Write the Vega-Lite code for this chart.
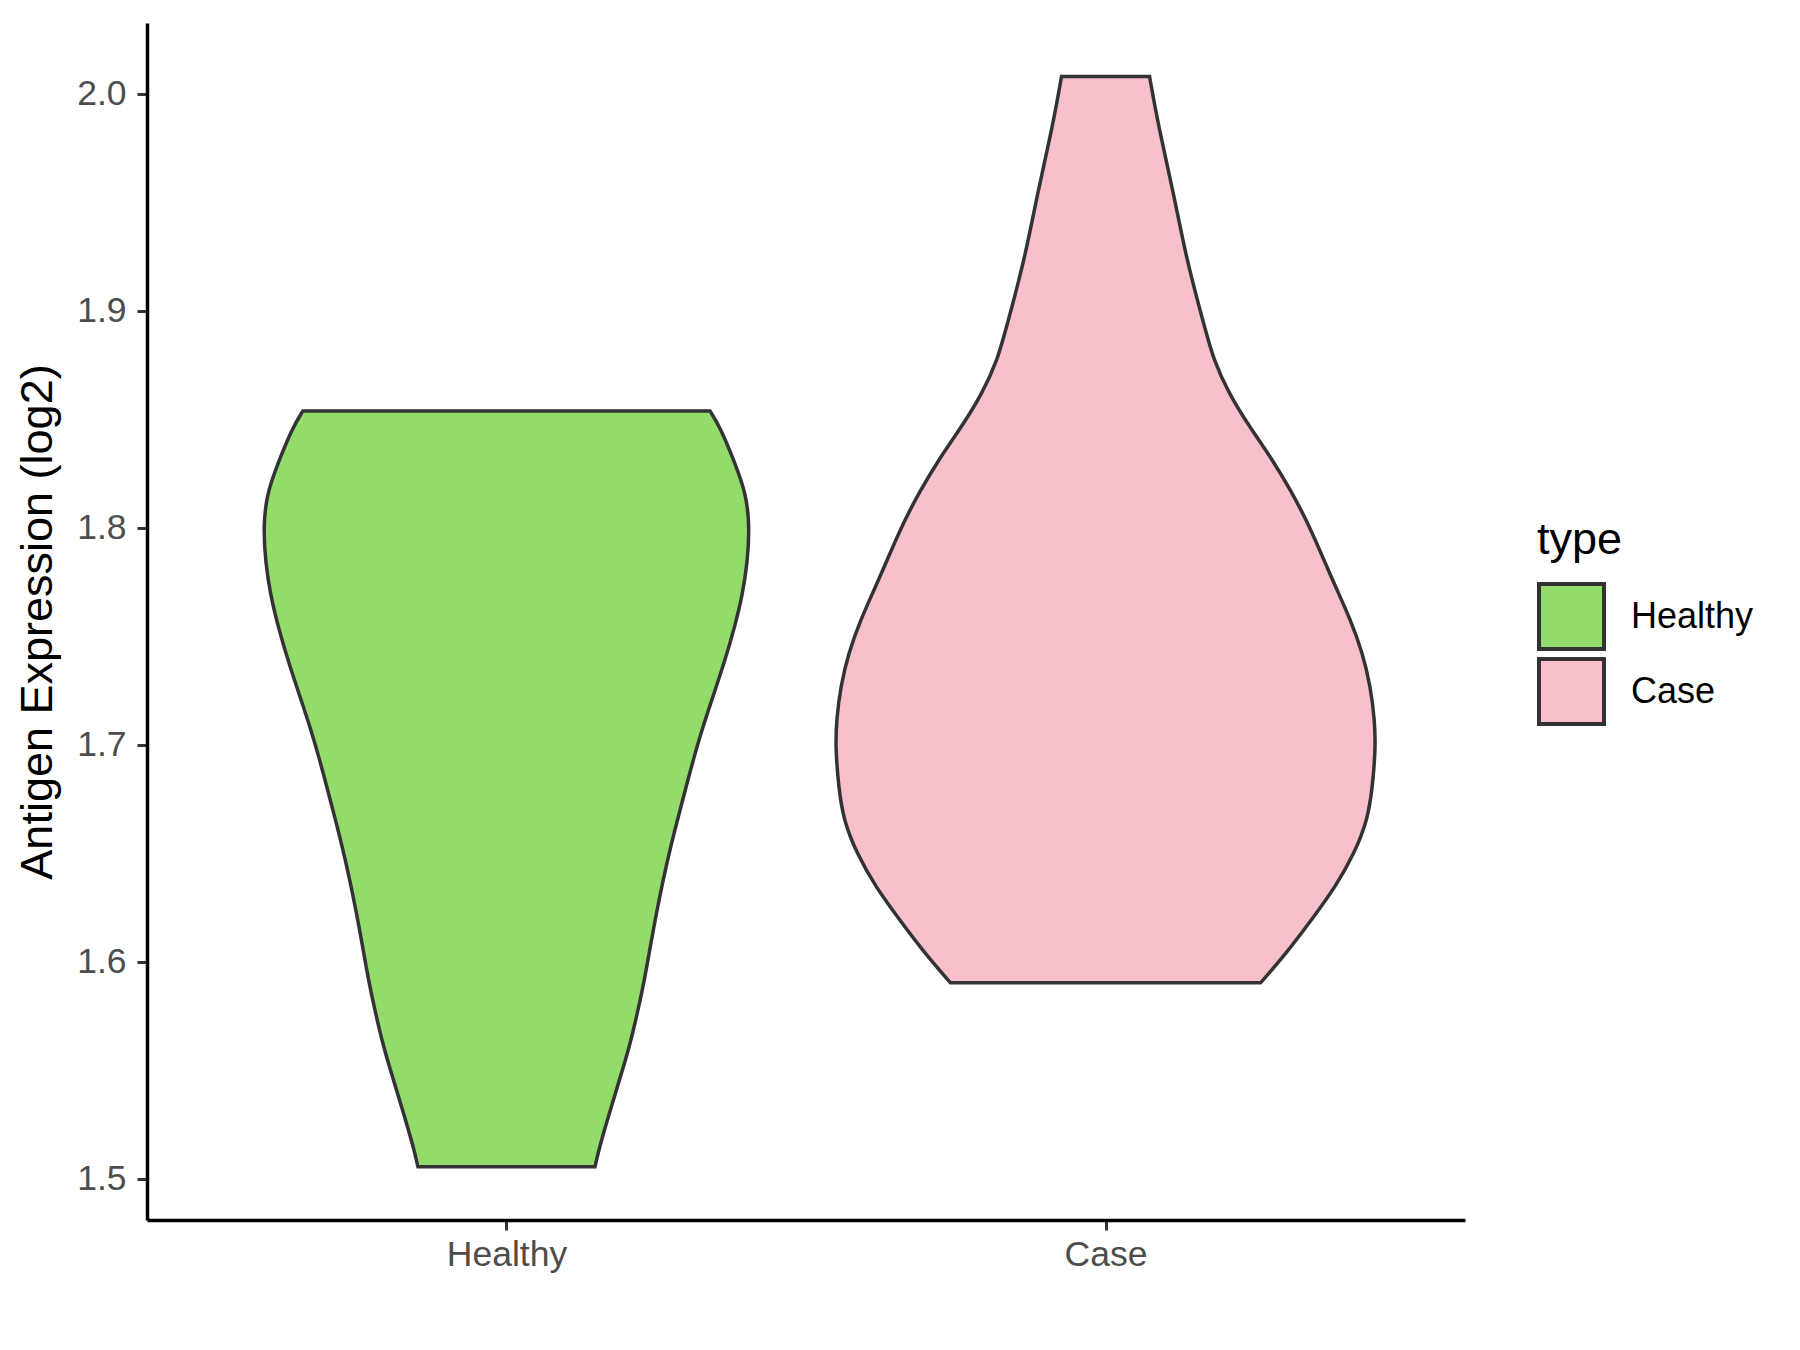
{
  "$schema": "https://vega.github.io/schema/vega-lite/v6.json",
  "width": 1318,
  "height": 1197,
  "autosize": {"type": "none"},
  "padding": {"left": 147, "top": 23, "right": 335, "bottom": 130},
  "background": "white",
  "config": {"view": {"stroke": null}, "font": "Liberation Sans"},
  "datasets": {
    "violins": [
      {"type": "Healthy", "expr": 1.5055, "width": 0.2954},
      {"type": "Healthy", "expr": 1.5147, "width": 0.3106},
      {"type": "Healthy", "expr": 1.5304, "width": 0.3440},
      {"type": "Healthy", "expr": 1.5456, "width": 0.3772},
      {"type": "Healthy", "expr": 1.5608, "width": 0.4106},
      {"type": "Healthy", "expr": 1.5765, "width": 0.4374},
      {"type": "Healthy", "expr": 1.5917, "width": 0.4608},
      {"type": "Healthy", "expr": 1.6069, "width": 0.4800},
      {"type": "Healthy", "expr": 1.6226, "width": 0.5008},
      {"type": "Healthy", "expr": 1.6378, "width": 0.5230},
      {"type": "Healthy", "expr": 1.6530, "width": 0.5480},
      {"type": "Healthy", "expr": 1.6687, "width": 0.5770},
      {"type": "Healthy", "expr": 1.6839, "width": 0.6060},
      {"type": "Healthy", "expr": 1.6922, "width": 0.6220},
      {"type": "Healthy", "expr": 1.7078, "width": 0.6544},
      {"type": "Healthy", "expr": 1.7230, "width": 0.6912},
      {"type": "Healthy", "expr": 1.7382, "width": 0.7278},
      {"type": "Healthy", "expr": 1.7539, "width": 0.7612},
      {"type": "Healthy", "expr": 1.7691, "width": 0.7880},
      {"type": "Healthy", "expr": 1.7843, "width": 0.8046},
      {"type": "Healthy", "expr": 1.8000, "width": 0.8114},
      {"type": "Healthy", "expr": 1.8152, "width": 0.8014},
      {"type": "Healthy", "expr": 1.8304, "width": 0.7612},
      {"type": "Healthy", "expr": 1.8461, "width": 0.7146},
      {"type": "Healthy", "expr": 1.8539, "width": 0.6794},
      {"type": "Case", "expr": 1.5903, "width": 0.5176},
      {"type": "Case", "expr": 1.6041, "width": 0.6044},
      {"type": "Case", "expr": 1.6194, "width": 0.6878},
      {"type": "Case", "expr": 1.6346, "width": 0.7680},
      {"type": "Case", "expr": 1.6502, "width": 0.8314},
      {"type": "Case", "expr": 1.6654, "width": 0.8748},
      {"type": "Case", "expr": 1.6806, "width": 0.8914},
      {"type": "Case", "expr": 1.6991, "width": 0.9016},
      {"type": "Case", "expr": 1.7115, "width": 0.8982},
      {"type": "Case", "expr": 1.7267, "width": 0.8848},
      {"type": "Case", "expr": 1.7424, "width": 0.8580},
      {"type": "Case", "expr": 1.7576, "width": 0.8180},
      {"type": "Case", "expr": 1.7728, "width": 0.7680},
      {"type": "Case", "expr": 1.7885, "width": 0.7190},
      {"type": "Case", "expr": 1.8037, "width": 0.6700},
      {"type": "Case", "expr": 1.8161, "width": 0.6230},
      {"type": "Case", "expr": 1.8313, "width": 0.5580},
      {"type": "Case", "expr": 1.8465, "width": 0.4808},
      {"type": "Case", "expr": 1.8622, "width": 0.4106},
      {"type": "Case", "expr": 1.8774, "width": 0.3606},
      {"type": "Case", "expr": 1.8926, "width": 0.3306},
      {"type": "Case", "expr": 1.9235, "width": 0.2704},
      {"type": "Case", "expr": 1.9544, "width": 0.2270},
      {"type": "Case", "expr": 1.9848, "width": 0.1770},
      {"type": "Case", "expr": 2.0080, "width": 0.1470}
    ],
    "cats": [{"type": "Healthy"}, {"type": "Case"}]
  },
  "layer": [
    {
      "data": {"name": "violins"},
      "transform": [{"filter": "datum.type === 'Healthy'"}],
      "mark": {"type": "area", "orient": "horizontal", "interpolate": "basis", "stroke": "#333333", "strokeWidth": 3.5, "fillOpacity": 1},
      "encoding": {
        "y": {
          "field": "expr", "type": "quantitative",
          "scale": {"domain": [1.481, 2.0327], "nice": false, "zero": false},
          "axis": {"title": "Antigen Expression (log2)", "values": [1.5, 1.6, 1.7, 1.8, 1.9, 2.0], "format": ".1f", "grid": false, "domainColor": "black", "domainWidth": 3.5, "tickColor": "#333333", "tickWidth": 3, "tickSize": 10, "labelFontSize": 35.5, "labelColor": "#4D4D4D", "labelPadding": 11, "titleFontSize": 45, "titleFontWeight": "normal", "titleColor": "black", "titlePadding": 16}
        },
        "x": {"field": "width", "type": "quantitative", "stack": "center", "scale": {"domain": [-0.1943, 2.0057], "nice": false, "zero": false}, "axis": null},
        "color": {
          "field": "type", "type": "nominal",
          "scale": {"domain": ["Healthy", "Case"], "range": ["#93DC6B", "#F7C0CB"]},
          "legend": {"title": "type", "orient": "none", "legendX": 1390, "legendY": 495, "titleFontSize": 45, "titleFontWeight": "normal", "titleColor": "black", "titlePadding": 19, "labelFontSize": 36, "labelColor": "black", "labelOffset": 25, "symbolType": "square", "symbolSize": 4225, "symbolStrokeColor": "#333333", "symbolStrokeWidth": 4, "symbolOpacity": 1, "rowPadding": -10}
        }
      }
    },
    {
      "data": {"name": "violins"},
      "transform": [{"filter": "datum.type === 'Case'"}],
      "mark": {"type": "area", "orient": "horizontal", "interpolate": "basis", "stroke": "#333333", "strokeWidth": 3.5, "fillOpacity": 1},
      "encoding": {
        "y": {
          "field": "expr", "type": "quantitative",
          "scale": {"domain": [1.481, 2.0327], "nice": false, "zero": false}
        },
        "x": {"field": "width", "type": "quantitative", "stack": "center", "scale": {"domain": [-1.1492, 1.0508], "nice": false, "zero": false}, "axis": null},
        "color": {
          "field": "type", "type": "nominal",
          "scale": {"domain": ["Healthy", "Case"], "range": ["#93DC6B", "#F7C0CB"]}
        }
      }
    },
    {
      "data": {"name": "cats"},
      "mark": {"type": "point", "opacity": 0},
      "encoding": {
        "x": {
          "field": "type", "type": "nominal",
          "scale": {"type": "point", "padding": 0.6, "domain": ["Healthy", "Case"]},
          "axis": {"orient": "bottom", "title": null, "grid": false, "domainColor": "black", "domainWidth": 3.5, "tickColor": "#333333", "tickWidth": 3, "tickSize": 10, "labelFontSize": 35.5, "labelColor": "#4D4D4D", "labelPadding": 7, "labelAngle": 0}
        }
      }
    }
  ],
  "resolve": {"scale": {"x": "independent"}, "axis": {"x": "independent"}}
}
